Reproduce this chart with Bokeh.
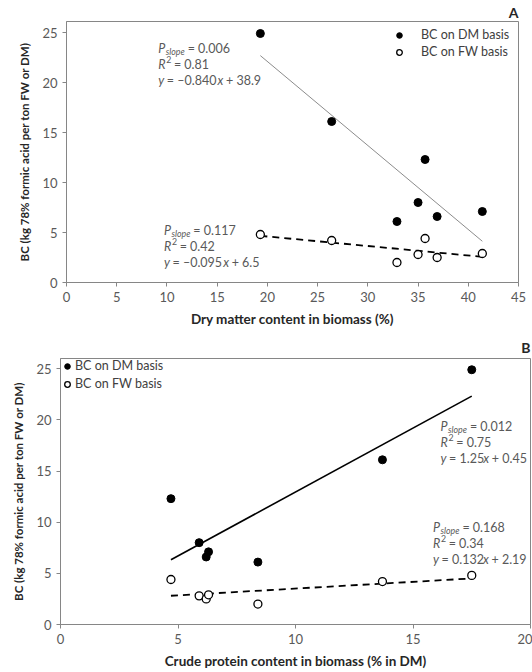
from bokeh.plotting import figure
from bokeh.models import Range1d, Legend, LegendItem, Label, FixedTicker
from bokeh.embed import file_html
from bokeh.resources import INLINE

# ---------------- data ----------------
dm_content = [19.3, 26.4, 35.7, 35.0, 32.9, 36.9, 41.4]      # Dry matter content (%)
crude_protein = [17.5, 13.7, 4.7, 5.9, 8.4, 6.2, 6.3]       # Crude protein (% in DM)
bc_dm = [24.9, 16.1, 12.3, 8.0, 6.1, 6.6, 7.1]               # BC on DM basis
bc_fw = [4.8, 4.2, 4.4, 2.8, 2.0, 2.5, 2.9]                  # BC on FW basis

# regressions: (slope, intercept, p, r2, eq-slope text, eq-intercept text)
fit_a_dm = (-0.840, 38.9, "0.006", "0.81", "–0.840", "+ 38.9")
fit_a_fw = (-0.095, 6.5, "0.117", "0.42", "–0.095", "+ 6.5")
fit_b_dm = (1.25, 0.45, "0.012", "0.75", "1.25", "+ 0.45")
fit_b_fw = (0.132, 2.19, "0.168", "0.34", "0.132", "+ 2.19")

x_ticks_a = [0, 5, 10, 15, 20, 25, 30, 35, 40, 45]
x_ticks_b = [0, 5, 10, 15, 20]
y_ticks = [0, 5, 10, 15, 20, 25]

FONT = "Lato"
GRAY_TXT = "#595959"
AXIS_COL = "#868686"
LABEL_COL = "#262626"
Y_LABEL = "BC (kg 78% formic acid per ton FW or DM)"

# approximate Lato advance widths (em)
W = {" ": 0.193, ".": 0.22, "=": 0.58, "+": 0.58, "–": 0.74, "−": 0.58,
     "P": 0.60, "R": 0.63, "y": 0.49, "x": 0.49, "s": 0.40, "l": 0.24,
     "o": 0.54, "p": 0.54, "e": 0.50, "2": 0.58}


def tw(s, size):
    return sum(W.get(c, 0.58) for c in s) * size


def add_lines(p, x, y, lines, size=12.5, lead=16):
    for i, segs in enumerate(lines):
        dx = 0.0
        for txt, italic, scale, dy, gap in segs:
            fs = size * scale
            p.add_layout(Label(x=x, y=y, x_offset=dx, y_offset=-i * lead + dy,
                               text=txt, text_font=FONT,
                               text_font_style="italic" if italic else "normal",
                               text_font_size=f"{fs:.1f}px", text_color=GRAY_TXT,
                               text_baseline="alphabetic", text_align="left"))
            dx += tw(txt, fs) + gap * size


def stat_block(p, x, y, fit):
    slope, icpt, pval, r2, s_txt, i_txt = fit
    lines = [
        [("P", True, 1, 0, 0.0), ("slope", True, 0.7, -3, 0.2), (f"= {pval}", False, 1, 0, 0)],
        [("R", True, 1, 0, 0.02), ("2", False, 0.7, 5, 0.2), (f"= {r2}", False, 1, 0, 0)],
        [("y", True, 1, 0, 0.193), (f"= {s_txt}", False, 1, 0, 0.0), ("x", True, 1, 0, 0.193),
         (i_txt, False, 1, 0, 0)],
    ]
    add_lines(p, x, y, lines)


def make_fig(width, height, xmax, ymax, borders, xticks, xlabel, title):
    top, right, bottom, left = borders
    p = figure(width=width, height=height, output_backend="svg", toolbar_location=None,
               x_range=Range1d(0, xmax), y_range=Range1d(0, ymax),
               min_border_top=top, min_border_right=right,
               min_border_bottom=bottom, min_border_left=left)
    p.xgrid.visible = False
    p.ygrid.visible = False
    p.outline_line_color = AXIS_COL
    p.outline_line_width = 1
    p.background_fill_color = "white"
    p.border_fill_color = "white"
    for ax, ticks in ((p.xaxis[0], xticks), (p.yaxis[0], y_ticks)):
        ax.ticker = FixedTicker(ticks=ticks)
        ax.minor_tick_line_color = None
        ax.axis_line_color = AXIS_COL
        ax.major_tick_line_color = AXIS_COL
        ax.major_tick_in = 0
        ax.major_tick_out = 4
        ax.major_label_text_font = FONT
        ax.major_label_text_font_size = "13px"
        ax.major_label_text_color = GRAY_TXT
        ax.major_label_standoff = 5
        ax.axis_label_text_font = FONT
        ax.axis_label_text_font_style = "bold"
        ax.axis_label_text_color = LABEL_COL
    p.xaxis[0].axis_label = xlabel
    p.xaxis[0].axis_label_text_font_size = "13.5px"
    p.xaxis[0].axis_label_standoff = 6
    p.yaxis[0].axis_label = Y_LABEL
    p.yaxis[0].axis_label_text_font_size = "11.5px"
    p.yaxis[0].axis_label_standoff = 8
    p.title.text = title
    p.title.align = "right"
    p.title.text_font = FONT
    p.title.text_font_size = "14px"
    p.title.text_font_style = "bold"
    p.title.text_color = LABEL_COL
    p.title.standoff = 2
    return p


def fit_xy(xs, fit):
    lo, hi = min(xs), max(xs)
    return [lo, hi], [fit[0] * lo + fit[1], fit[0] * hi + fit[1]]


# ---------------- panel A ----------------
pA = make_fig(532, 330, 45, 26.1, (21, 14, 48, 66), x_ticks_a,
              "Dry matter content in biomass (%)", "A")
fx, fy = fit_xy(dm_content, fit_a_dm)
pA.line(fx, fy, line_color="#8c8c8c", line_width=1)
fx, fy = fit_xy(dm_content, fit_a_fw)
pA.line(fx, fy, line_color="black", line_width=1.8, line_dash="7 5")
rA1 = pA.scatter(dm_content, bc_dm, size=8, marker="circle", fill_color="black", line_color="black")
rA2 = pA.scatter(dm_content, bc_fw, size=8, marker="circle", fill_color="white",
                 line_color="black", line_width=1.3)
stat_block(pA, 9.13, 23.4, fit_a_dm)
stat_block(pA, 9.7, 5.2, fit_a_fw)
legA = Legend(items=[LegendItem(label="BC on DM basis", renderers=[rA1]),
                     LegendItem(label="BC on FW basis", renderers=[rA2])],
              location=(323, 223), margin=0, padding=4, spacing=2,
              glyph_width=20, glyph_height=14, label_height=14, label_standoff=12,
              label_text_font=FONT, label_text_font_size="12.5px", label_text_color="#404040",
              border_line_color=None, background_fill_alpha=0)
pA.add_layout(legA)

# ---------------- panel B ----------------
pB = make_fig(532, 342, 20, 26, (28, 2, 48, 60), x_ticks_b,
              "Crude protein content in biomass (% in DM)", "B")
pB.title.standoff = 6
fx, fy = fit_xy(crude_protein, fit_b_dm)
pB.line(fx, fy, line_color="black", line_width=1.6)
fx, fy = fit_xy(crude_protein, fit_b_fw)
pB.line(fx, fy, line_color="black", line_width=1.8, line_dash="7 5")
rB1 = pB.scatter(crude_protein, bc_dm, size=8, marker="circle", fill_color="black", line_color="black")
rB2 = pB.scatter(crude_protein, bc_fw, size=8, marker="circle", fill_color="white",
                 line_color="black", line_width=1.3)
stat_block(pB, 16.17, 19.35, fit_b_dm)
stat_block(pB, 15.85, 9.5, fit_b_fw)
legB = Legend(items=[LegendItem(label="BC on DM basis", renderers=[rB1]),
                     LegendItem(label="BC on FW basis", renderers=[rB2])],
              location="top_left", margin=0, padding=6, spacing=3,
              glyph_width=14, glyph_height=14, label_height=14, label_standoff=1,
              label_text_font=FONT, label_text_font_size="12.5px", label_text_color="#404040",
              border_line_color=None, background_fill_alpha=0)
pB.add_layout(legB)

open("out.html", "w").write(file_html([pA, pB], INLINE))
